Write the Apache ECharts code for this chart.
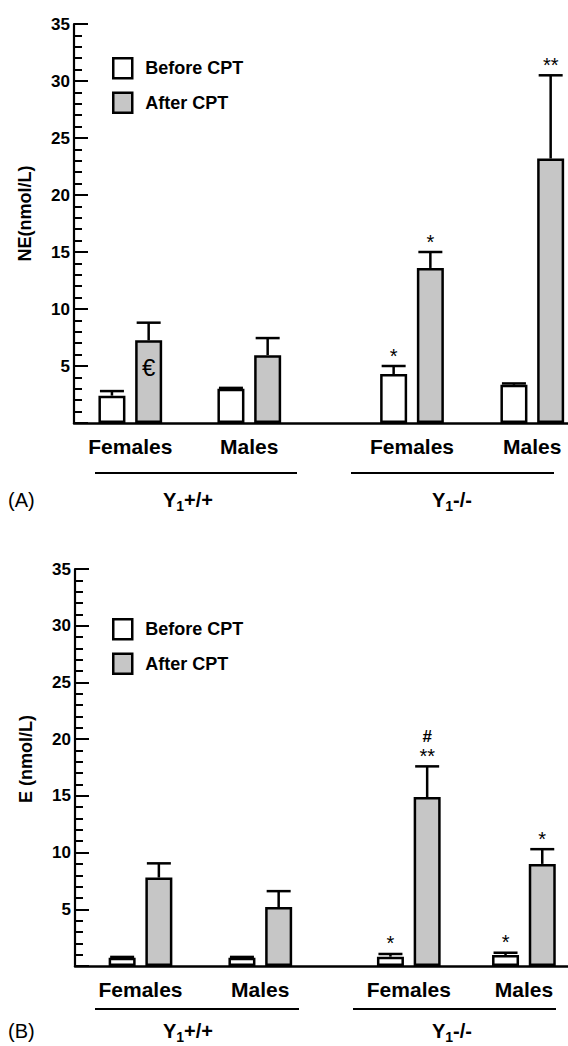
<!DOCTYPE html>
<html>
<head>
<meta charset="utf-8">
<title>NE and E before / after CPT</title>
<script src="https://cdn.jsdelivr.net/npm/echarts@6/dist/echarts.min.js"></script>
<style>
html, body { margin: 0; padding: 0; background: #fff; }
#main { width: 568px; height: 1046px; }
</style>
</head>
<body>
<div id="main"></div>
<script>
// categories on each genotype axis
var sexes = ['Females', 'Males'];
var legendNames = ['Before CPT', 'After CPT'];

// order of every array: [Females Y1+/+, Males Y1+/+, Females Y1-/-, Males Y1-/-]
// panel A: NE (nmol/L)
var neBefore = [2.4, 3.0, 4.3, 3.35];
var neBeforeSem = [0.4, 0.08, 0.7, 0.12];
var neAfter = [7.25, 5.95, 13.6, 23.2];
var neAfterSem = [1.55, 1.5, 1.4, 7.3];
var neBeforeMarks = [[], [], ['*'], []];
var neAfterMarks = [[], [], ['*'], ['**']];
var neAfterInside = ['€', '', '', ''];

// panel B: E (nmol/L)
var eBefore = [0.73, 0.73, 0.82, 0.97];
var eBeforeSem = [0.07, 0.07, 0.24, 0.2];
var eAfter = [7.8, 5.2, 14.9, 9.0];
var eAfterSem = [1.25, 1.4, 2.7, 1.3];
var eBeforeMarks = [[], [], ['*'], ['*']];
var eAfterMarks = [[], [], ['**', '#'], ['*']];
var eAfterInside = ['', '', '', ''];

var FONT = '"Liberation Sans", Arial, Helvetica, sans-serif';
var GREY = '#c6c6c6';
var LINE_W = 2.5;
var BAR_W = 27;
var BAR_GAP = 0.36;
var BAR_SHIFT = BAR_W * (1 + BAR_GAP) / 2;
var CAP_HALF = 12;

// grids run from the first to the second category centre (boundaryGap off)
var panels = [
    {
        name: 'NE(nmol/L)', namePad: 20, tag: '(A)', axisLeft: 74, top: 24, height: 399,
        grids: [{ left: 130.3, width: 119 }, { left: 412, width: 120.3 }],
        before: neBefore, beforeSem: neBeforeSem, beforeMarks: neBeforeMarks,
        after: neAfter, afterSem: neAfterSem, afterMarks: neAfterMarks, afterInside: neAfterInside,
        legendTop: 52,
        lineY: 473, labelY: 500,
        brackets: [{ x1: 95, x2: 297, cx: 188, label: '+/+' }, { x1: 351, x2: 554, cx: 452, label: '-/-' }]
    },
    {
        name: 'E (nmol/L)', namePad: 17, tag: '(B)', axisLeft: 75, top: 569, height: 397,
        grids: [{ left: 140.5, width: 119.8 }, { left: 408.8, width: 115.1 }],
        before: eBefore, beforeSem: eBeforeSem, beforeMarks: eBeforeMarks,
        after: eAfter, afterSem: eAfterSem, afterMarks: eAfterMarks, afterInside: eAfterInside,
        legendTop: 613,
        lineY: 1009, labelY: 1031,
        brackets: [{ x1: 95, x2: 299, cx: 188, label: '+/+' }, { x1: 353, x2: 556, cx: 452, label: '-/-' }]
    }
];

function barSeries(name, color, values, gi) {
    return {
        name: name, type: 'bar', xAxisIndex: gi, yAxisIndex: gi, clip: false,
        barWidth: BAR_W, barGap: (BAR_GAP * 100) + '%',
        itemStyle: { color: color, borderColor: '#000', borderWidth: LINE_W },
        emphasis: { disabled: true },
        data: values
    };
}

//误差线 + 显著性标记
function errSeries(shift, means, sems, marks, inside, from, gi) {
    var data = [];
    for (var i = 0; i < 2; i++) data.push([i, means[from + i], sems[from + i]]);
    return {
        type: 'custom', xAxisIndex: gi, yAxisIndex: gi, z: 5, silent: true, clip: false,
        data: data,
        renderItem: function (params, api) {
            var n = from + params.dataIndex;
            var top = api.coord([api.value(0), api.value(1)]);
            var cap = api.coord([api.value(0), api.value(1) + api.value(2)]);
            var x = top[0] + shift;
            var stroke = { stroke: '#000', lineWidth: LINE_W };
            var kids = [
                { type: 'line', shape: { x1: x, y1: top[1], x2: x, y2: cap[1] }, style: stroke },
                { type: 'line', shape: { x1: x - CAP_HALF, y1: cap[1], x2: x + CAP_HALF, y2: cap[1] }, style: stroke }
            ];
            (marks[n] || []).forEach(function (m, r) {
                var hash = m === '#';
                kids.push({
                    type: 'text', x: x, y: cap[1] - 15 - r * 15 + (hash ? 0 : 4.5),
                    style: {
                        text: m, fill: '#000',
                        font: (hash ? 'bold 17px ' : '20px ') + FONT,
                        align: 'center', verticalAlign: 'middle',
                        textAlign: 'center', textVerticalAlign: 'middle'
                    }
                });
            });
            if (inside && inside[n]) {
                kids.push({
                    type: 'text', x: x, y: top[1] + 27,
                    style: {
                        text: inside[n], fill: '#000', font: '24px ' + FONT,
                        align: 'center', verticalAlign: 'middle',
                        textAlign: 'center', textVerticalAlign: 'middle'
                    }
                });
            }
            return { type: 'group', children: kids };
        }
    };
}

var grid = [], xAxis = [], yAxis = [], series = [], legend = [], graphic = [];
var blackLine = { color: '#000', width: LINE_W };

panels.forEach(function (p) {
    var base = grid.length;
    grid.push({ left: p.axisLeft, right: 0, top: p.top, height: p.height });
    xAxis.push({
        gridIndex: base, type: 'value', min: 0, max: 1,
        axisLine: { show: true, lineStyle: blackLine },
        axisTick: { show: false }, axisLabel: { show: false }, splitLine: { show: false }
    });
    yAxis.push({
        gridIndex: base, type: 'value', min: 0, max: 35, interval: 5,
        name: p.name, nameLocation: 'middle', nameGap: 40,
        nameTextStyle: { color: '#000', fontFamily: FONT, fontWeight: 'bold', fontSize: 18, padding: [0, 0, 0, p.namePad] },
        axisLine: { show: true, lineStyle: { color: '#000', width: 2.2 } },
        axisTick: { show: true, inside: true, length: 14, lineStyle: { color: '#000', width: 2 } },
        minorTick: { show: true, splitNumber: 5, length: 8, lineStyle: { color: '#000', width: 2 } },
        axisLabel: {
            margin: 4, color: '#000', fontFamily: FONT, fontWeight: 'bold', fontSize: 17,
            formatter: function (v) { return v === 0 ? '' : v; }
        },
        splitLine: { show: false }
    });
    p.grids.forEach(function (g, j) {
        var gi = grid.length;
        var from = j * 2;
        grid.push({ left: g.left, width: g.width, top: p.top, height: p.height });
        xAxis.push({
            gridIndex: gi, type: 'category', data: sexes, boundaryGap: false,
            axisLine: { show: false }, axisTick: { show: false },
            axisLabel: { interval: 0, margin: 13, color: '#000', fontFamily: FONT, fontWeight: 'bold', fontSize: 21 }
        });
        yAxis.push({ gridIndex: gi, type: 'value', min: 0, max: 35, show: false });
        series.push(barSeries(legendNames[0], '#fff', p.before.slice(from, from + 2), gi));
        series.push(barSeries(legendNames[1], GREY, p.after.slice(from, from + 2), gi));
        series.push(errSeries(-BAR_SHIFT, p.before, p.beforeSem, p.beforeMarks, null, from, gi));
        series.push(errSeries(BAR_SHIFT, p.after, p.afterSem, p.afterMarks, p.afterInside, from, gi));
    });
    legend.push({
        orient: 'vertical', left: 107, top: p.legendTop,
        itemWidth: 19, itemHeight: 20, itemGap: 12, icon: 'rect',
        selectedMode: false, data: legendNames,
        itemStyle: { borderColor: '#000', borderWidth: LINE_W },
        textStyle: { color: '#000', fontFamily: FONT, fontWeight: 'bold', fontSize: 18, padding: [0, 0, 0, 8] }
    });
    graphic.push({
        type: 'text', x: 8, y: p.labelY,
        style: { text: p.tag, fill: '#000', font: '20px ' + FONT, textVerticalAlign: 'middle', verticalAlign: 'middle' }
    });
    p.brackets.forEach(function (b) {
        graphic.push({
            type: 'line', shape: { x1: b.x1, y1: p.lineY, x2: b.x2, y2: p.lineY },
            style: { stroke: '#000', lineWidth: 2 }
        });
        graphic.push({
            type: 'text', x: b.cx, y: p.labelY,
            style: {
                text: '{m|Y}{s|1}{m|' + b.label + '}', fill: '#000',
                textAlign: 'center', align: 'center', textVerticalAlign: 'middle', verticalAlign: 'middle',
                rich: {
                    m: { fontFamily: FONT, fontWeight: 'bold', fontSize: 20, lineHeight: 26, fill: '#000' },
                    s: { fontFamily: FONT, fontWeight: 'bold', fontSize: 14, lineHeight: 12, verticalAlign: 'bottom', fill: '#000' }
                }
            }
        });
    });
});

var chart = echarts.init(document.getElementById('main'), null, { renderer: 'svg' });
chart.setOption({
    backgroundColor: '#fff',
    animation: false,
    grid: grid,
    xAxis: xAxis,
    yAxis: yAxis,
    legend: legend,
    graphic: graphic,
    series: series
});
</script>
</body>
</html>
